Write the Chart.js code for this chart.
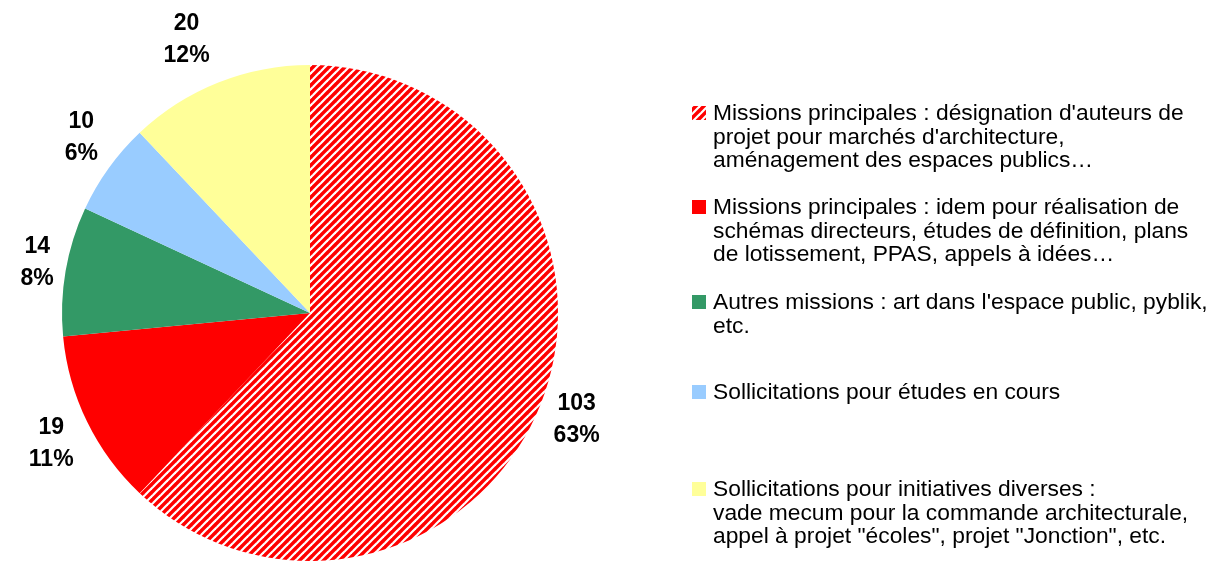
<!DOCTYPE html>
<html><head><meta charset="utf-8">
<script src="https://cdn.jsdelivr.net/npm/chart.js@4.4.0/dist/chart.umd.min.js"></script>
<style>
html,body{margin:0;padding:0;background:#fff;width:1215px;height:561px;overflow:hidden;font-family:"Liberation Sans",Arial,sans-serif;}
#wrap{position:absolute;left:0;top:0;width:1215px;height:561px;}
#legend{position:absolute;left:0;top:0;width:1215px;height:561px;pointer-events:none;}
.item{position:absolute;left:713px;font-size:22.8px;line-height:23.7px;color:#000;white-space:nowrap;}
.mk{position:absolute;left:-21px;top:5px;width:14px;height:14px;}
</style></head>
<body>
<div id="wrap"><canvas id="c" width="1215" height="561"></canvas></div>
<div id="legend"></div>
<script>
const categories = [
  ["Missions principales : désignation d'auteurs de", "projet pour marchés d'architecture,", "aménagement des espaces publics…"],
  ["Missions principales : idem pour réalisation de", "schémas directeurs, études de définition, plans", "de lotissement, PPAS, appels à idées…"],
  ["Autres missions : art dans l'espace public, pyblik,", "etc."],
  ["Sollicitations pour études en cours"],
  ["Sollicitations pour initiatives diverses :", "vade mecum pour la commande architecturale,", "appel à projet \"écoles\", projet \"Jonction\", etc."]
];
const values = [103, 19, 14, 10, 20];
const percentLabels = ["63%", "11%", "8%", "6%", "12%"];
const colors = ["hatch", "#FF0000", "#339966", "#99CCFF", "#FFFF99"];
// layout helpers (not data)
const legendTops = [101, 195, 290, 380, 477];
const labelNudge = [[-1, 0], [0, 4], [11, -2], [5, -7], [-17, -6]];

function makeHatch(){
  const s = 8;
  const pc = document.createElement('canvas');
  pc.width = s; pc.height = s;
  const x = pc.getContext('2d');
  x.fillStyle = '#FF0000'; x.fillRect(0,0,s,s);
  x.strokeStyle = '#FFFFFF'; x.lineWidth = 2.2;
  for (let k = -1; k <= 1; k++) {
    x.beginPath(); x.moveTo(k*s - 1, s + 1); x.lineTo(k*s + s + 1, -1); x.stroke();
  }
  return pc;
}
const hatchCanvas = makeHatch();
const ctx = document.getElementById('c').getContext('2d');
const hatch = ctx.createPattern(hatchCanvas, 'repeat');
const bg = colors.map(c => c === 'hatch' ? hatch : c);

const labelPlugin = {
  id: 'outLabels',
  afterDatasetsDraw(chart){
    const c = chart.ctx;
    const meta = chart.getDatasetMeta(0);
    c.save();
    c.font = 'bold 23px "Liberation Sans", Arial, sans-serif';
    c.fillStyle = '#000';
    c.textAlign = 'center';
    c.textBaseline = 'middle';
    meta.data.forEach((arc, i) => {
      const p = arc.getProps(['x','y','startAngle','endAngle','outerRadius'], true);
      const mid = (p.startAngle + p.endAngle) / 2;
      const d = p.outerRadius + 40;
      const cx = p.x + Math.cos(mid) * d + labelNudge[i][0];
      const cy = p.y + Math.sin(mid) * d + labelNudge[i][1];
      c.fillText(String(values[i]), cx, cy - 15.5);
      c.fillText(percentLabels[i], cx, cy + 16);
    });
    c.restore();
  }
};

new Chart(ctx, {
  type: 'pie',
  data: {
    labels: categories.map(l => l.join(' ')),
    datasets: [{ data: values, backgroundColor: bg, borderWidth: 0, hoverOffset: 0 }]
  },
  options: {
    responsive: false,
    animation: false,
    layout: { padding: { left: 62, top: 65, right: 1215 - 558, bottom: 0 } },
    plugins: { legend: { display: false }, tooltip: { enabled: false } }
  },
  plugins: [labelPlugin]
});

const leg = document.getElementById('legend');
categories.forEach((lines, i) => {
  const d = document.createElement('div');
  d.className = 'item';
  d.style.top = legendTops[i] + 'px';
  const m = document.createElement('div');
  m.className = 'mk';
  if (colors[i] === 'hatch') {
    m.style.backgroundImage = 'url(' + hatchCanvas.toDataURL() + ')';
  } else {
    m.style.background = colors[i];
  }
  d.appendChild(m);
  lines.forEach((t, j) => {
    const s = document.createElement('div');
    s.textContent = t;
    d.appendChild(s);
  });
  leg.appendChild(d);
});
</script>
</body></html>
